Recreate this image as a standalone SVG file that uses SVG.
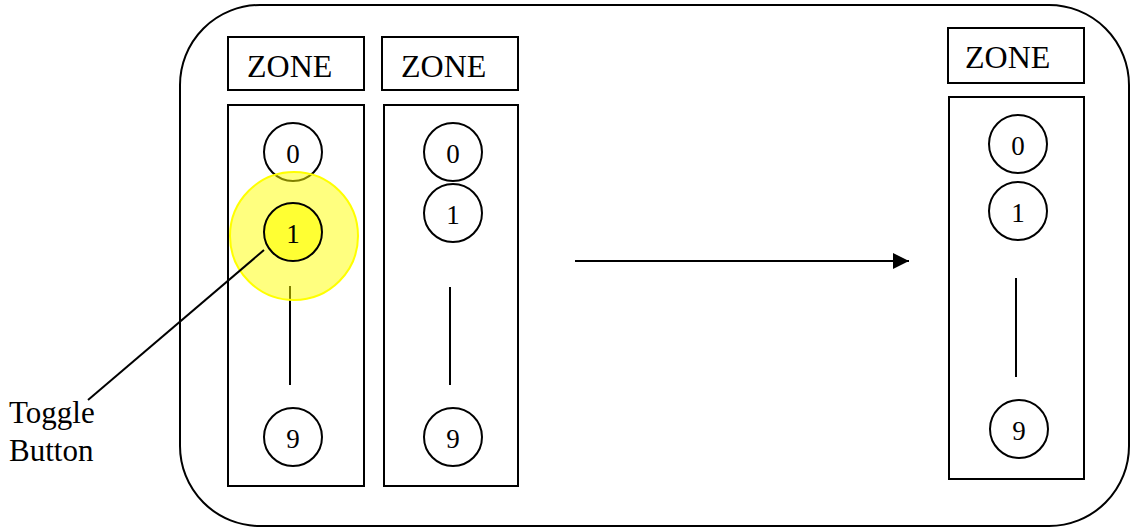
<svg xmlns="http://www.w3.org/2000/svg" width="1131" height="528" viewBox="0 0 1131 528">
  <style>
    .box { fill: none; stroke: #000; stroke-width: 2; }
    .col { fill: #fff; stroke: #000; stroke-width: 2; }
    .dot { fill: #fff; stroke: #000; stroke-width: 2; }
    .ln { stroke: #000; stroke-width: 2; fill: none; }
    .lbl { font-family: "Liberation Serif", "Times New Roman", serif; fill: #000; }
    .zone { font-size: 32px; }
    .digit { font-size: 27px; text-anchor: middle; }
    .note { font-size: 31px; }
  </style>
  <defs>
    <marker id="arrowHead" markerWidth="16" markerHeight="16" refX="16" refY="8" orient="auto" markerUnits="userSpaceOnUse">
      <path d="M0,0 L16,8 L0,16 Z" fill="#000"/>
    </marker>
  </defs>

  <!-- outer frame -->
  <rect id="frame" x="180" y="5" width="949" height="521" rx="80" ry="80" class="box"/>

  <!-- zone column A -->
  <g id="zoneA">
    <rect x="228" y="37" width="136" height="53" class="box"/>
    <text x="247" y="77" class="lbl zone">ZONE</text>
    <rect x="228" y="105" width="136" height="381" class="col"/>
    <circle cx="293" cy="152" r="29" class="dot"/>
    <text x="293" y="163" class="lbl digit">0</text>
    <line x1="290" y1="286" x2="290" y2="385" class="ln"/>
    <circle cx="293" cy="437" r="29" class="dot"/>
    <text x="293" y="448" class="lbl digit">9</text>
  </g>

  <!-- highlight halo around the toggled button -->
  <circle id="halo" cx="294" cy="236" r="64" fill="#ffff00" fill-opacity="0.5" stroke="#ffff00" stroke-width="2"/>
  <g id="toggleBtn">
    <circle cx="293" cy="232" r="29" fill="#ffff33" stroke="#000" stroke-width="2"/>
    <text x="293" y="243" class="lbl digit">1</text>
  </g>

  <!-- zone column B -->
  <g id="zoneB">
    <rect x="382" y="37" width="136" height="53" class="box"/>
    <text x="401" y="77" class="lbl zone">ZONE</text>
    <rect x="384" y="105" width="134" height="381" class="col"/>
    <circle cx="453" cy="152" r="29" class="dot"/>
    <text x="453" y="163" class="lbl digit">0</text>
    <circle cx="453" cy="213" r="29" class="dot"/>
    <text x="453" y="224" class="lbl digit">1</text>
    <line x1="450" y1="287" x2="450" y2="385" class="ln"/>
    <circle cx="453" cy="437" r="29" class="dot"/>
    <text x="453" y="448" class="lbl digit">9</text>
  </g>

  <!-- zone column C -->
  <g id="zoneC">
    <rect x="948" y="28" width="136" height="55" class="box"/>
    <text x="965" y="68" class="lbl zone">ZONE</text>
    <rect x="949" y="97" width="135" height="382" class="col"/>
    <circle cx="1018" cy="144" r="29" class="dot"/>
    <text x="1018" y="155" class="lbl digit">0</text>
    <circle cx="1018" cy="211" r="29" class="dot"/>
    <text x="1018" y="222" class="lbl digit">1</text>
    <line x1="1016" y1="278" x2="1016" y2="377" class="ln"/>
    <circle cx="1019" cy="429" r="29" class="dot"/>
    <text x="1019" y="440" class="lbl digit">9</text>
  </g>

  <!-- label -->
  <g id="toggleLabel">
    <text x="9" y="423" class="lbl note">Toggle</text>
    <text x="9" y="461" class="lbl note">Button</text>
  </g>

  <!-- connectors -->
  <g id="connectors">
    <line x1="264" y1="250" x2="88" y2="400" class="ln"/>
    <line x1="575" y1="261" x2="909" y2="261" class="ln" marker-end="url(#arrowHead)"/>
  </g>
</svg>
